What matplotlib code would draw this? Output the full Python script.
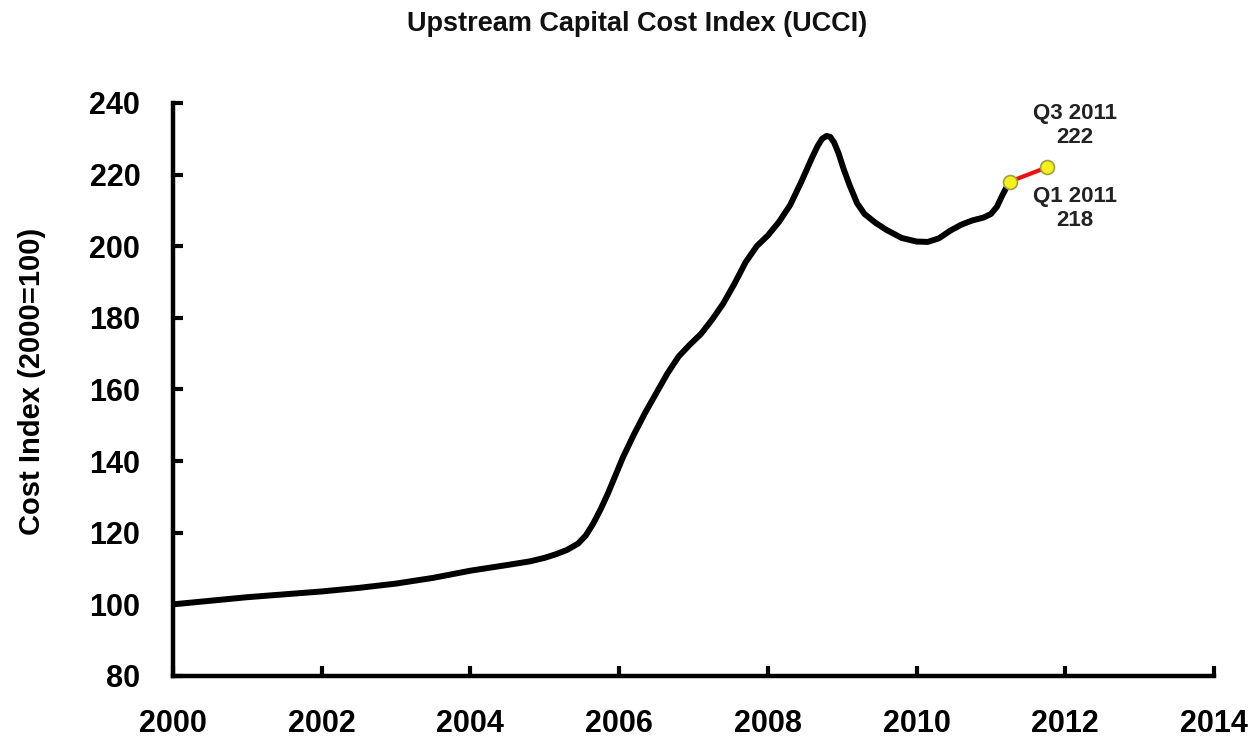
import matplotlib
matplotlib.use("Agg")
import matplotlib.pyplot as plt

years = [2000.0, 2000.5, 2001.0, 2001.5, 2002.0, 2002.5, 2003.0, 2003.5, 2004.0, 2004.5,
         2004.8, 2005.0, 2005.15, 2005.3, 2005.45, 2005.55, 2005.65, 2005.75, 2005.85, 2005.95,
         2006.05, 2006.2, 2006.35, 2006.5, 2006.65, 2006.8, 2006.95, 2007.1, 2007.25, 2007.4,
         2007.55, 2007.7, 2007.85, 2008.0, 2008.15, 2008.3, 2008.45, 2008.6, 2008.67, 2008.73,
         2008.79, 2008.84, 2008.89, 2008.95, 2009.02, 2009.1, 2009.2, 2009.3, 2009.45, 2009.6,
         2009.8, 2010.0, 2010.15, 2010.3, 2010.45, 2010.6, 2010.75, 2010.9, 2011.0, 2011.08,
         2011.16, 2011.25]
ucci = [100, 101, 102, 102.8, 103.6, 104.6, 105.8, 107.4, 109.4, 111,
        112, 113, 114, 115.2, 117, 119.2, 122.5, 126.5, 131, 136,
        141, 147.5, 153.5, 159, 164.5, 169.2, 172.5, 175.5, 179.5, 184,
        189.5, 195.5, 200, 203, 206.8, 211.5, 218, 225, 228, 230,
        230.8, 230.5, 229, 226, 221.5, 217, 212, 209, 206.5, 204.5,
        202.3, 201.3, 201.2, 202.2, 204.3, 206, 207.2, 208, 209, 211,
        214.5, 218]

proj_years = [2011.25, 2011.75]
proj_vals = [218, 222]
proj_labels = ["Q1 2011\n218", "Q3 2011\n222"]

xticks = [2000, 2002, 2004, 2006, 2008, 2010, 2012, 2014]
yticks = [80, 100, 120, 140, 160, 180, 200, 220, 240]

plt.rcParams['font.family'] = ['Liberation Sans', 'DejaVu Sans']
plt.rcParams['font.weight'] = 'bold'

fig = plt.figure(figsize=(12.5, 7.37), dpi=100)
ax = fig.add_axes([0.1384, 0.0828, 0.8328, 0.7775])

ax.plot(years, ucci, color='black', lw=4.3, solid_capstyle='round', solid_joinstyle='round', zorder=3)
ax.plot(proj_years, proj_vals, color='#ee1111', lw=3.0, zorder=4)
ax.plot(proj_years, proj_vals, linestyle='none', marker='o', markersize=10,
        markerfacecolor='#f5f01a', markeredgecolor='#a0a040', markeredgewidth=1.2, zorder=5)

ax.text(2012.13, 233.6, proj_labels[1], ha='center', va='center',
        fontsize=16, fontweight='bold', color='#222222', linespacing=1.2)
ax.text(2012.13, 210.6, proj_labels[0], ha='center', va='center',
        fontsize=16, fontweight='bold', color='#222222', linespacing=1.2)

ax.set_xlim(2000, 2014)
ax.set_ylim(80, 240)
ax.set_xticks(xticks)
ax.set_yticks(yticks)
ax.set_xticklabels([str(v) for v in xticks], fontsize=22, fontweight='bold')
ax.set_yticklabels([str(v) for v in yticks], fontsize=22, fontweight='bold')
ax.tick_params(axis='both', direction='in', length=7, width=3, color='black')
ax.tick_params(axis='x', pad=24)
ax.tick_params(axis='y', pad=23.5)

for s in ['top', 'right']:
    ax.spines[s].set_visible(False)
for s in ['left', 'bottom']:
    ax.spines[s].set_linewidth(3.2)
    ax.spines[s].set_color('black')
    ax.spines[s].set_capstyle('projecting')

ax.set_ylabel('Cost Index (2000=100)', fontsize=21, fontweight='bold')
ax.yaxis.set_label_coords(-0.122, 0.514)
fig.text(0.51, 0.968, 'Upstream Capital Cost Index (UCCI)', ha='center', va='center',
         fontsize=19.5, fontweight='bold', color='#111111')

fig.savefig('out.png', dpi=100, facecolor='white')
